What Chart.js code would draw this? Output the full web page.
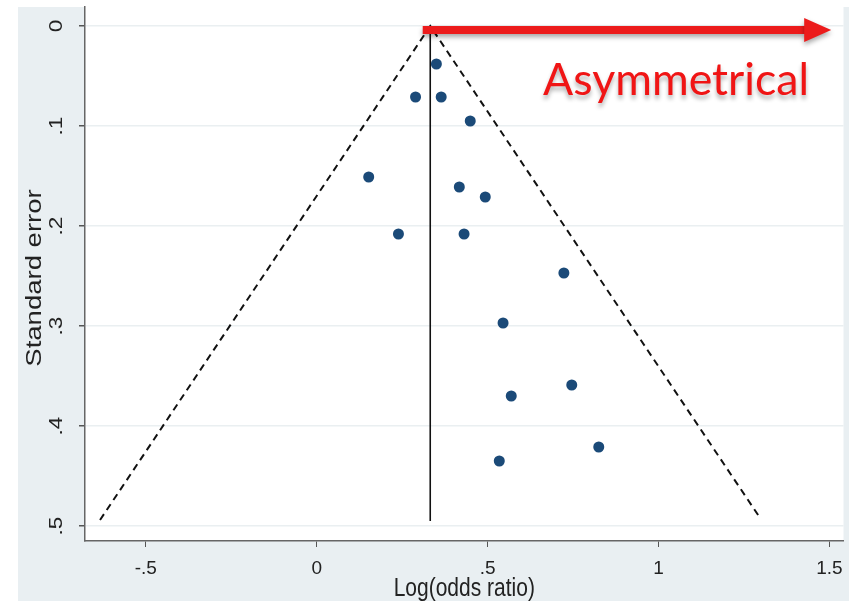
<!DOCTYPE html>
<html>
<head>
<meta charset="utf-8">
<script src="https://cdn.jsdelivr.net/npm/chart.js@4.4.1/dist/chart.umd.min.js"></script>
<style>
html, body { margin: 0; padding: 0; background: #fff; }
#wrap { width: 849px; height: 603px; }
</style>
</head>
<body>
<div id="wrap"><canvas id="funnel"></canvas></div>
<script>
// study estimates
const logOR = [0.350, 0.289, 0.364, 0.449, 0.152, 0.417, 0.493, 0.239, 0.431, 0.723, 0.545, 0.746, 0.569, 0.825, 0.534];
const stdErr = [0.038, 0.071, 0.071, 0.095, 0.151, 0.161, 0.171, 0.208, 0.208, 0.247, 0.297, 0.359, 0.370, 0.421, 0.435];

// pooled estimate line and pseudo 95% limits
const pooledX = [0.332, 0.332];
const pooledSE = [0, 0.495];
const funnelX = [-0.634, 0.332, 1.297];
const funnelSE = [0.494, 0, 0.492];

const xTicks = [-0.5, 0, 0.5, 1, 1.5];
const yTicks = [0, 0.1, 0.2, 0.3, 0.4, 0.5];

const FONT = '"Liberation Sans", Arial, sans-serif';
const STRETCH = 1.25; // the source image is a bit taller than wide

// stata style: .5, -.5, 0, 1.5
function stataLabel(v) {
    const s = String(+Number(v).toFixed(2));
    return s.replace(/^(-?)0\./, '$1.');
}

const backdrop = {
    id: 'backdrop',
    beforeDraw(chart) {
        const { ctx, width, height, chartArea: a } = chart;
        ctx.save();
        ctx.fillStyle = '#ffffff';
        ctx.fillRect(0, 0, width, height);
        ctx.fillStyle = '#e9eff2';
        ctx.fillRect(18, 7, width - 18, height - 9);
        ctx.fillStyle = '#ffffff';
        ctx.fillRect(a.left, a.top, a.right - a.left, a.bottom - a.top);
        ctx.restore();
    }
};

const overlay = {
    id: 'overlay',
    afterDraw(chart) {
        const { ctx, chartArea: a } = chart;
        const xs = chart.scales.x, ys = chart.scales.y;

        ctx.save();
        ctx.fillStyle = '#222';
        ctx.textAlign = 'center';
        ctx.textBaseline = 'middle';

        // rotated y tick labels
        ctx.font = '18px ' + FONT;
        yTicks.forEach(v => {
            ctx.save();
            ctx.translate(57, ys.getPixelForValue(v));
            ctx.rotate(-Math.PI / 2);
            ctx.scale(STRETCH, 1);
            ctx.fillText(stataLabel(v), 0, 0);
            ctx.restore();
        });

        // axis titles
        ctx.font = '21px ' + FONT;
        ctx.textBaseline = 'alphabetic';
        ctx.save();
        ctx.translate((a.left + a.right) / 2, 596);
        ctx.scale(1, STRETCH);
        ctx.fillText('Log(odds ratio)', 0, 0);
        ctx.restore();

        ctx.font = '22px ' + FONT;
        ctx.textBaseline = 'middle';
        ctx.save();
        ctx.translate(35, 278);
        ctx.rotate(-Math.PI / 2);
        ctx.scale(STRETCH, 1);
        ctx.fillText('Standard error', 0, 0);
        ctx.restore();
        ctx.restore();

        // red arrow
        const x0 = xs.getPixelForValue(0.31), x1 = xs.getPixelForValue(1.505);
        const y0 = ys.getPixelForValue(0.004);
        ctx.save();
        ctx.shadowColor = 'rgba(0,0,0,0.35)';
        ctx.shadowBlur = 5;
        ctx.shadowOffsetY = 3;
        ctx.fillStyle = '#ec1b1b';
        ctx.fillRect(x0, y0 - 4, x1 - 26 - x0, 8);
        ctx.beginPath();
        ctx.moveTo(x1 - 27, y0 - 12);
        ctx.lineTo(x1, y0);
        ctx.lineTo(x1 - 27, y0 + 12);
        ctx.closePath();
        ctx.fill();

        // label
        ctx.font = '45px Lato, "Open Sans", sans-serif';
        ctx.textAlign = 'left';
        ctx.textBaseline = 'alphabetic';
        ctx.shadowBlur = 4;
        ctx.shadowOffsetY = 4;
        ctx.shadowColor = 'rgba(0,0,0,0.3)';
        ctx.fillStyle = '#f01515';
        ctx.fillText('Asymmetrical', xs.getPixelForValue(0.662), ys.getPixelForValue(0.069), 266);
        ctx.restore();
    }
};

new Chart(document.getElementById('funnel'), {
    type: 'scatter',
    data: {
        datasets: [
            {
                label: 'Studies',
                data: logOR.map((x, i) => ({ x, y: stdErr[i] })),
                pointRadius: 5.5,
                pointBackgroundColor: '#1b4a78',
                pointBorderWidth: 0,
                order: 0
            },
            {
                label: 'Pooled',
                type: 'line',
                data: pooledX.map((x, i) => ({ x, y: pooledSE[i] })),
                borderColor: '#111',
                borderWidth: 1.6,
                pointRadius: 0,
                order: 1
            },
            {
                label: 'Pseudo 95% CI',
                type: 'line',
                data: funnelX.map((x, i) => ({ x, y: funnelSE[i] })),
                borderColor: '#111',
                borderWidth: 2,
                borderDash: [7, 5],
                pointRadius: 0,
                order: 2
            }
        ]
    },
    options: {
        responsive: true,
        maintainAspectRatio: false,
        animation: false,
        layout: { padding: { top: 7, right: 2, left: 0, bottom: 0 } },
        plugins: {
            legend: { display: false },
            tooltip: { enabled: false }
        },
        scales: {
            x: {
                type: 'linear',
                min: -0.678,
                max: 1.541,
                afterBuildTicks: s => { s.ticks = xTicks.map(value => ({ value })); },
                afterFit: s => { s.height = 62; s.paddingLeft = 0; s.paddingRight = 0; },
                grid: { drawOnChartArea: false, tickLength: 6, tickColor: '#555' },
                border: { color: '#666', width: 1.5 },
                ticks: {
                    color: '#222',
                    font: { family: FONT, size: 19 },
                    padding: 10,
                    maxRotation: 0,
                    callback: v => stataLabel(v)
                }
            },
            y: {
                type: 'linear',
                reverse: true,
                min: -0.019,
                max: 0.515,
                afterBuildTicks: s => { s.ticks = yTicks.map(value => ({ value })); },
                afterFit: s => { s.width = 85; s.paddingTop = 0; s.paddingBottom = 0; },
                grid: { color: '#eaeff1', lineWidth: 1.5, tickLength: 6, tickColor: '#555' },
                border: { color: '#666', width: 1.5 },
                ticks: { display: false }
            }
        }
    },
    plugins: [backdrop, overlay]
});
</script>
</body>
</html>
